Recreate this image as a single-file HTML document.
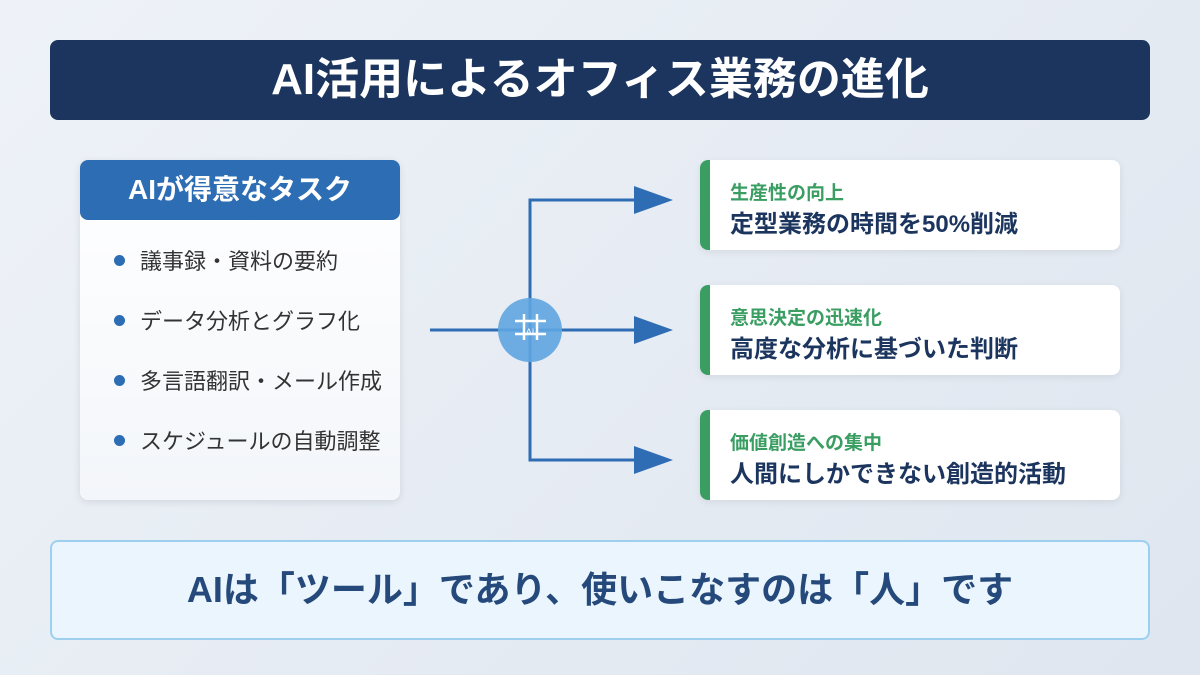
<!DOCTYPE html>
<html><head><meta charset="utf-8"><style>
body{margin:0;width:1200px;height:675px;background:linear-gradient(135deg,#eef2f8,#dfe6ef);font-family:"Liberation Sans","Noto Sans CJK JP",sans-serif;position:relative;overflow:hidden}
.abs{position:absolute}
.hdr{left:50px;top:40px;width:1100px;height:80px;background:#1c355e;border-radius:8px;color:#fff;font-size:44px;font-weight:bold;text-align:center;line-height:80px}
.lc{left:80px;top:160px;width:320px;height:340px;background:linear-gradient(#fff,#f3f6fa);border-radius:8px;box-shadow:0 2px 8px rgba(0,0,0,.1)}
.lh{left:80px;top:160px;width:320px;height:60px;background:#2d6db4;border-radius:8px;color:#fff;font-size:28px;font-weight:bold;text-align:center;line-height:60px}
.li{left:114px;font-size:22px;color:#333;line-height:26px}
.li:before{content:"";display:inline-block;width:11px;height:11px;border-radius:50%;background:#2d6db4;margin-right:15px;vertical-align:3px}
.rc{left:700px;width:420px;height:90px;background:#fff;border-radius:8px;box-shadow:0 2px 8px rgba(0,0,0,.08);overflow:hidden}
.rc:before{content:"";position:absolute;left:0;top:0;width:10px;height:90px;background:#3a9e63}
.s{position:absolute;left:30px;top:18px;font-size:19px;font-weight:bold;color:#3a9e63}
.m{position:absolute;left:30px;top:44px;font-size:24px;font-weight:bold;color:#1c355e}
.bt{left:50px;top:540px;width:1096px;height:96px;background:#eaf5fd;border:2px solid #9dd0f0;border-radius:8px;text-align:center;line-height:96px;font-size:36px;font-weight:bold;color:#25497a}
</style></head><body>
<div class="abs hdr">AI活用によるオフィス業務の進化</div>
<div class="abs lc"></div>
<div class="abs lh">AIが得意なタスク</div>
<div class="abs li" style="top:249px">議事録・資料の要約</div>
<div class="abs li" style="top:309px">データ分析とグラフ化</div>
<div class="abs li" style="top:369px">多言語翻訳・メール作成</div>
<div class="abs li" style="top:429px">スケジュールの自動調整</div>
<svg class="abs" style="left:0;top:0" width="1200" height="675">
<g stroke="#2e6db4" stroke-width="3" fill="none">
<line x1="430" y1="330" x2="640" y2="330"/>
<polyline points="640,200 530,200 530,460 640,460"/>
</g>
<g fill="#2e6db4">
<polygon points="634,186 673,200 634,214"/>
<polygon points="634,316 673,330 634,344"/>
<polygon points="634,446 673,460 634,474"/>
</g>
<circle cx="530" cy="330" r="32" fill="#5fa5e0" fill-opacity="0.9"/>
<g stroke="#fff" stroke-width="2.5">
<line x1="524" y1="314" x2="524" y2="340"/><line x1="537" y1="314" x2="537" y2="340"/>
<line x1="515" y1="321" x2="546" y2="321"/><line x1="515" y1="334" x2="546" y2="334"/>
</g>
<text x="530" y="335" font-size="9" fill="#fff" text-anchor="middle" font-family="Liberation Sans">AI</text>
</svg>
<div class="abs rc" style="top:160px"><div class="s">生産性の向上</div><div class="m">定型業務の時間を50%削減</div></div>
<div class="abs rc" style="top:285px"><div class="s">意思決定の迅速化</div><div class="m">高度な分析に基づいた判断</div></div>
<div class="abs rc" style="top:410px"><div class="s">価値創造への集中</div><div class="m">人間にしかできない創造的活動</div></div>
<div class="abs bt">AIは「ツール」であり、使いこなすのは「人」です</div>
</body></html>
